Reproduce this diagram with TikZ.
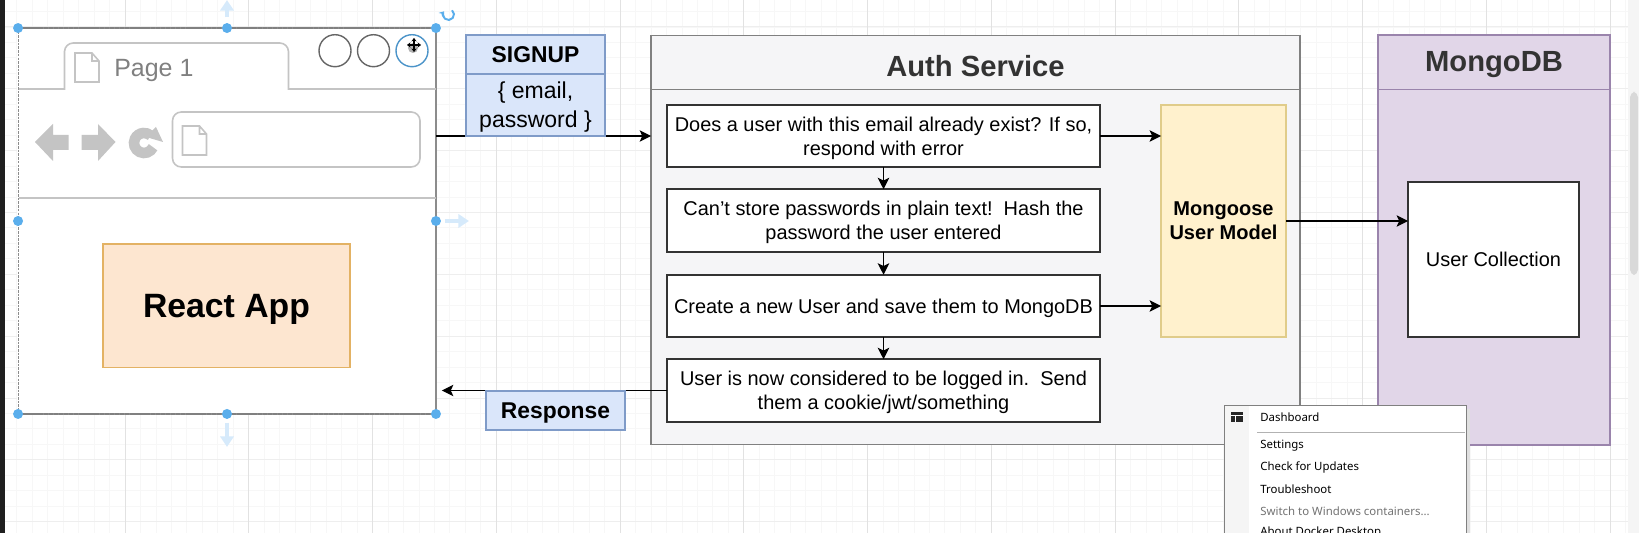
\documentclass[tikz,border=0pt]{standalone}
\usepackage{fontspec}
\setmainfont{Liberation Sans}
\newfontfamily\menufont{Noto Sans}
\usetikzlibrary{arrows.meta}

\definecolor{gridminor}{HTML}{F7F7F7}
\definecolor{gridmid}{HTML}{EEEEEE}
\definecolor{gridmajor}{HTML}{E2E2E2}
\definecolor{uigray}{HTML}{C4C4C4}
\definecolor{handleblue}{HTML}{5AAEEC}
\definecolor{hintblue}{HTML}{D6EAFB}
\definecolor{authfill}{HTML}{F5F5F7}
\definecolor{tagfill}{HTML}{DAE6FA}
\definecolor{tagline}{HTML}{7F9BC8}
\definecolor{appfill}{HTML}{FDE6D0}
\definecolor{appline}{HTML}{E3B264}
\definecolor{modelfill}{HTML}{FFF1CD}
\definecolor{modelline}{HTML}{E0CC8A}
\definecolor{dbfill}{HTML}{E1D6E8}
\definecolor{dbline}{HTML}{9A84AC}

\tikzset{
    >={Stealth[length=6.5pt,width=6.5pt,inset=1.5pt]},
    flow/.style={draw=black, line width=0.8pt, ->},
    lane/.style={draw=black!50, fill=authfill, line width=0.9pt, inner sep=0pt, outer sep=0pt},
    stepbox/.style={draw=black!80, fill=white, line width=0.9pt, minimum width=8.66cm, minimum height=1.25cm,
        inner sep=0pt, outer sep=0pt, align=center, text depth=-1.5pt, font=\fontsize{11.35}{13.6}\selectfont},
    tagbox/.style={draw=tagline, fill=tagfill, line width=0.9pt, inner sep=0pt, outer sep=0pt, align=center,
        minimum width=2.78cm},
    title/.style={font=\fontsize{16.6}{20}\selectfont\bfseries, text=black!80},
    handle/.style={fill=handleblue},
    hint/.style={draw=hintblue, line width=2.2pt, -{Triangle[length=6pt,width=7.5pt]}},
    uiline/.style={draw=uigray, line width=0.9pt},
    navshape/.style={fill=uigray},
    menuitem/.style={anchor=west, inner sep=0pt, font=\menufont\fontsize{6.5}{8}\selectfont}
}

\begin{document}
\begin{tikzpicture}[x=0.02cm, y=-0.02cm]
    \path[use as bounding box, clip] (0,0) rectangle (1639,533);
    \fill[white] (0,0) rectangle (1639,533);

    % canvas grid
    \foreach \i in {1,...,105}
        \draw[gridminor, line width=0.5pt] ({1.25+15.47*\i},0) -- ({1.25+15.47*\i},533);
    \foreach \j in {0,...,34}
        \draw[gridminor, line width=0.5pt] (5,{11.5+15.46*\j}) -- (1628,{11.5+15.46*\j});
    \foreach \j in {0,...,8}
        \draw[gridmid, line width=0.5pt] (5,{26.9+61.85*\j}) -- (1628,{26.9+61.85*\j});
    \foreach \i in {1,...,13}
        \draw[gridmajor, line width=0.5pt] ({1.25+123.75*\i},0) -- ({1.25+123.75*\i},533);

    % window edge and scrollbar
    \fill[black!88] (0,0) rectangle (5,533);
    \fill[black!4] (1628,0) rectangle (1639,533);
    \fill[black!15, rounded corners=3pt] (1630,92) rectangle (1638,275);

    % browser
    \node[draw=black!45, fill=white, line width=0.9pt, inner sep=0pt, outer sep=0pt,
        minimum width=8.36cm, minimum height=7.72cm] (browser) at (227,221) {};
    \draw[uiline] (browser.west |- 0,89) -- (64.5,89) -- (64.5,51) [rounded corners=5pt] -- (64.5,43) -- (288.5,43)
        [sharp corners] -- (288.5,89) -- (browser.east |- 0,89);
    \draw[uiline] (browser.west |- 0,198) -- (browser.east |- 0,198);
    \node[text=black!50, inner sep=0pt, anchor=west, font=\fontsize{14.2}{16}\selectfont] (pagetab) at (114,71) {Page 1};
    \foreach \px/\py in {75/53, 182.5/126}
        \draw[uiline] (\px,\py) -- ++(17,0) -- ++(7,8) -- ++(0,21) -- ++(-24,0) -- cycle ++(17,0) -- ++(0,8) -- ++(7,0);
    \foreach \cx in {335,373.5}
        \draw[black!60, line width=0.8pt] (\cx,50.7) circle (16);
    \draw[handleblue!85!black, line width=0.8pt] (412,50.7) circle (16);
    \fill[black!30] (413,48) circle (5);
    \draw[black, line width=0.7pt, <->, >={Stealth[length=2pt,width=3pt]}] (407,45) -- (421,45);
    \draw[black, line width=0.7pt, <->, >={Stealth[length=2pt,width=3pt]}] (414,38) -- (414,52);

    % nav buttons
    \fill[navshape] (35,142) -- (53,124) -- (53,135) -- (68.5,135) -- (68.5,150) -- (53,150) -- (53,161) -- cycle;
    \fill[navshape] (115.5,142) -- (98,124) -- (98,135) -- (81.5,135) -- (81.5,150) -- (98,150) -- (98,161) -- cycle;
    \draw[uigray, line width=6pt] ([shift=(25:10)]144,143) arc (25:310:10);
    \fill[navshape] (156,127) -- (163,142) -- (146,137) -- cycle;
    \draw[uiline, rounded corners=5pt] (172.5,112) rectangle (420,167);

    \node[draw=appline, fill=appfill, line width=0.9pt, inner sep=0pt, outer sep=0pt, minimum width=4.94cm, minimum height=2.48cm,
        text depth=-0.5pt, font=\fontsize{19.2}{22}\selectfont\bfseries] (reactapp) at (226.5,305.7) {React App};

    % selection outline
    \draw[black!50, line width=0.8pt, dash pattern=on 2.5pt off 0.4pt] (browser.north west) -- (browser.north east);
    \draw[black!50, line width=0.8pt, dash pattern=on 2.5pt off 0.4pt] (browser.south west) -- (browser.south east);
    \draw[white, line width=0.9pt] (browser.north west) -- (browser.south west);
    \draw[black!45, line width=0.5pt, dash pattern=on 1.5pt off 0.6pt] (browser.north west) -- (browser.south west);
    \foreach \a in {north west,north,north east,west,east,south west,south,south east}
        \fill[handle] (browser.\a) circle (5);
    \draw[hint] (browser.north) ++(0,-11) -- ++(0,-17);
    \draw[hint] (browser.east) ++(9,0) -- ++(24,0);
    \draw[hint] (browser.south) ++(0,9) -- ++(0,24);
    \draw[handleblue, line width=1.1pt, -{Stealth[length=2.5pt,width=4pt]}] ([shift=(-50:5.5)]448.5,14.5) arc (-50:215:5.5);

    % auth service
    \node[lane, minimum width=12.98cm, minimum height=8.18cm] (auth) at (975.5,240) {};
    \draw[draw=black!50, line width=0.9pt] (auth.west |- 0,89.5) -- (auth.east |- 0,89.5);
    \node[title] (authtitle) at (975.5,66) {Auth Service};
    \node[stepbox] (check) at (883.5,136) {Does a user with this email already exist? If so,\\respond with error};
    \node[stepbox] (hash) at (883.5,220.5) {Can't store passwords in plain text!\ \ Hash the\\password the user entered};
    \node[stepbox] (create) at (883.5,306) {Create a new User and save them to MongoDB};
    \node[stepbox] (login) at (883.5,390.5) {User is now considered to be logged in.\ \ Send\\them a cookie/jwt/something};
    \node[draw=modelline, fill=modelfill, line width=0.9pt, inner sep=0pt, outer sep=0pt, minimum width=2.5cm, minimum height=4.64cm, align=center,
        text depth=-1.2pt, font=\fontsize{11.4}{13.6}\selectfont\bfseries] (mongoose) at (1223.5,221) {Mongoose\\User Model};

    % mongodb
    \node[draw=dbline, fill=dbfill, line width=0.9pt, inner sep=0pt, outer sep=0pt,
        minimum width=4.64cm, minimum height=8.2cm] (mongo) at (1494,240) {};
    \draw[draw=dbline, line width=0.9pt] (mongo.west |- 0,89.5) -- (mongo.east |- 0,89.5);
    \node[title] (mongotitle) at (1494,65) {MongoDB};
    \node[stepbox, minimum width=3.42cm, minimum height=3.1cm] (collection) at (1493.5,259.5) {User Collection};

    % flow
    \draw[flow] (browser.east |- check) -- (auth.west |- check);
    \draw[flow] (check) -- (hash);
    \draw[flow] (hash) -- (create);
    \draw[flow] (create) -- (login);
    \draw[flow] (check.east) -- (check.east -| mongoose.west);
    \draw[flow] (create.east) -- (create.east -| mongoose.west);
    \draw[flow] (mongoose.east) -- (mongoose.east -| collection.west);
    \draw[flow, shorten >=3.4pt] (login.west) -- (login.west -| browser.east);

    \node[tagbox, minimum height=0.78cm, text depth=-2.4pt,
        font=\fontsize{13}{15}\selectfont\bfseries] (signuphead) at (535.5,54.5) {SIGNUP};
    \node[tagbox, minimum height=1.24cm, text depth=-0.85pt,
        font=\fontsize{13.1}{16.6}\selectfont] (signupbody) at (535.5,105) {\{ email,\\password \}};
    \node[tagbox, minimum height=0.78cm, text depth=-2.1pt,
        font=\fontsize{13}{15}\selectfont\bfseries] (response) at (555.5,410.5) {Response};

    % tray menu
    \fill[black!12] (1228,409) rectangle (1470,533);
    \node[draw=black!50, fill=white, line width=0.5pt, inner sep=0pt, outer sep=0pt, anchor=north west,
        minimum width=4.84cm, minimum height=3.2cm] (menu) at (1224,405) {};
    \fill[black!4] (1224.5,405.5) rectangle (1249,533);
    \fill[black!85] (1231,412) rectangle (1243,422);
    \draw[white, line width=0.4pt] (1231,415) -- (1243,415) (1235,415) -- (1235,422);
    \node[menuitem] (dashboard) at (1260,417) {Dashboard};
    \draw[black!30, line width=0.5pt] (1257,432) -- (1465,432);
    \node[menuitem] (settings) at (1260,445.5) {Settings};
    \node[menuitem] (updates) at (1260,467.5) {Check for Updates};
    \node[menuitem] (trouble) at (1260,489) {Troubleshoot};
    \node[menuitem, text=black!55] (containers) at (1260,511) {Switch to Windows containers...};
    \node[menuitem] (about) at (1260,532.5) {About Docker Desktop};
\end{tikzpicture}
\end{document}
